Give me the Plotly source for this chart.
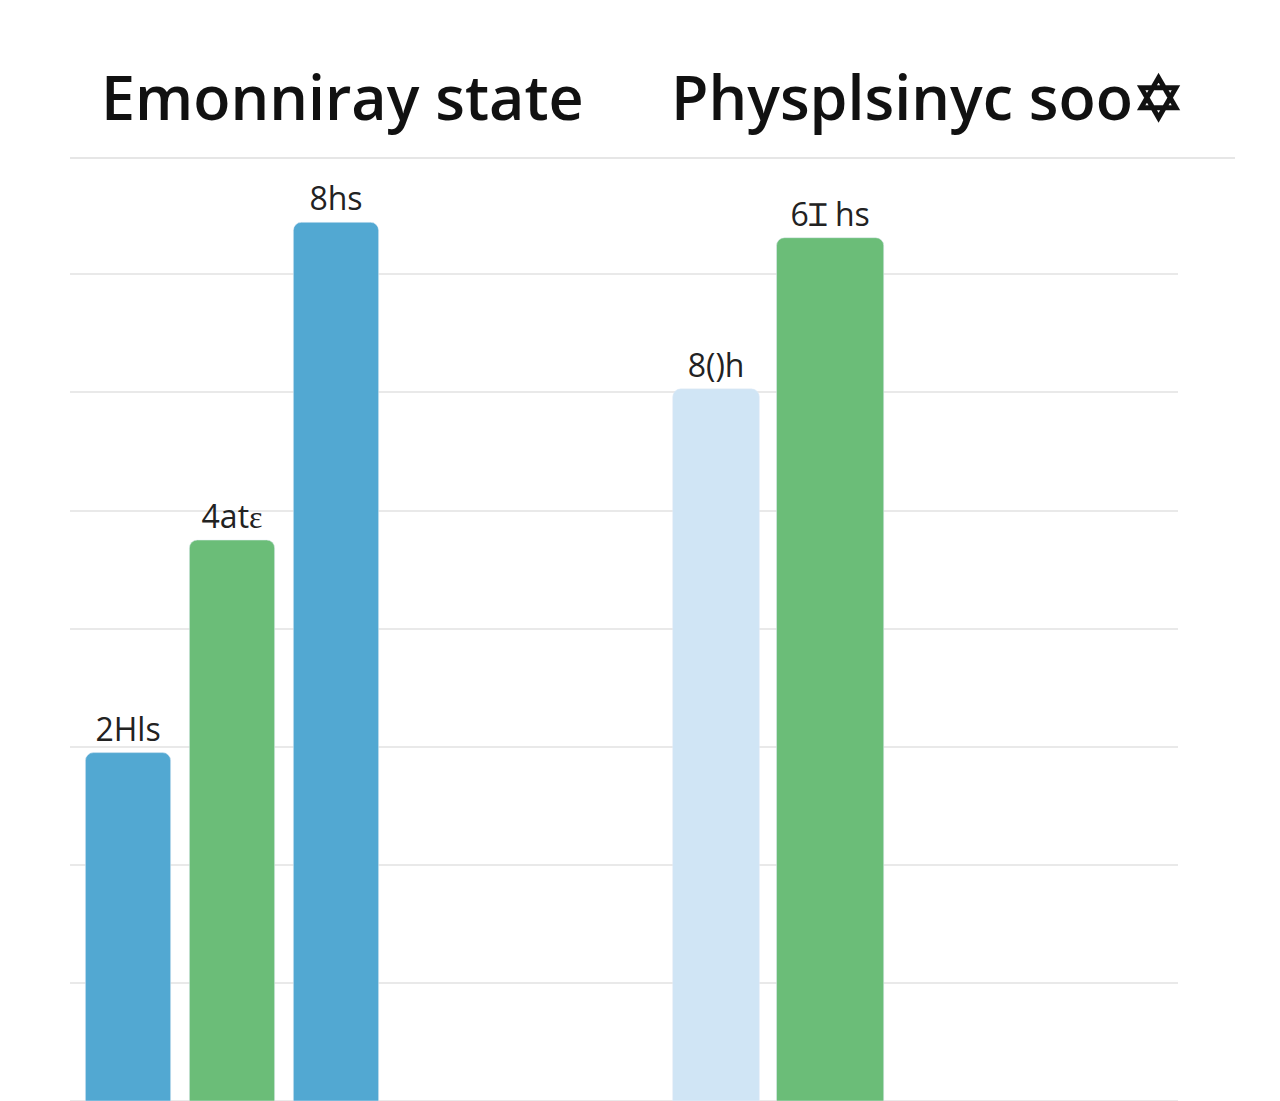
import plotly.graph_objects as go
from plotly.subplots import make_subplots

# ---- data ----
left_title = "Emonniray state"
right_title = "Physplsinyc soo✡"
left_cats = ["A", "B", "C"]
left_values = [2.95, 4.75, 7.44]
left_labels = ["2Hls", "4atɛ", "8hs"]
right_cats = ["D", "E"]
right_values = [6.03, 7.31]
right_labels = ["8()h", "6Ɪ hs"]

BLUE = "#52A8D2"
GREEN = "#6BBD78"
LIGHT = "#D0E5F5"

W, H = 1280, 1101
OX, OY = 8, 8          # page offset of the rendered figure
T = 160 - OY
plot_h = H - T
px_per_unit = 118.1

fig = make_subplots(rows=1, cols=2, horizontal_spacing=0)

fig.add_trace(go.Bar(
    x=left_cats, y=left_values, text=left_labels,
    marker=dict(color=[BLUE, GREEN, BLUE], cornerradius=8),
    width=0.82, textposition="outside", cliponaxis=False,
    textfont=dict(family="Open Sans", size=32, color="#222"),
), row=1, col=1)

fig.add_trace(go.Bar(
    x=right_cats, y=right_values, text=right_labels,
    marker=dict(color=[LIGHT, GREEN], cornerradius=8),
    width=[0.76, 0.94], textposition="outside", cliponaxis=False,
    textfont=dict(family="Open Sans", size=32, color="#222"),
), row=1, col=2)

# bottom of the plot area sits OY px below the page bottom
ymin = -OY / px_per_unit
ymax = ymin + plot_h / px_per_unit

grid = dict(showgrid=True, gridcolor="#E9E9E9", gridwidth=2, dtick=1, tick0=0,
            showticklabels=False, zeroline=False, range=[ymin, ymax], ticks="")

def px(x):
    return (x - OX) / W

fig.update_layout(
    width=W, height=H,
    margin=dict(l=0, r=0, t=T, b=0),
    paper_bgcolor="white", plot_bgcolor="white",
    showlegend=False,
    xaxis=dict(domain=[px(70), px(624)], range=[-0.558, 4.77],
               showticklabels=False, showgrid=False, zeroline=False, ticks=""),
    xaxis2=dict(domain=[px(624), px(1178)], range=[-0.807, 4.05],
                showticklabels=False, showgrid=False, zeroline=False, ticks=""),
    yaxis=grid,
    yaxis2=dict(grid),
)

def py(pixel_y):
    return 1 + (T - (pixel_y - OY)) / plot_h

fig.add_annotation(text=left_title, x=px(342), y=py(97), xref="paper", yref="paper",
                   showarrow=False, xanchor="center", yanchor="middle",
                   font=dict(family="Open Sans", size=61, color="#111", weight=600))
fig.add_annotation(text=right_title, x=px(927), y=py(97), xref="paper", yref="paper",
                   showarrow=False, xanchor="center", yanchor="middle",
                   font=dict(family="Open Sans", size=61, color="#111", weight=600))

fig.add_shape(type="line", xref="paper", yref="paper",
              x0=px(70), x1=px(1235), y0=py(158), y1=py(158),
              line=dict(color="#E6E6E6", width=2))

fig.write_html("out.html")
